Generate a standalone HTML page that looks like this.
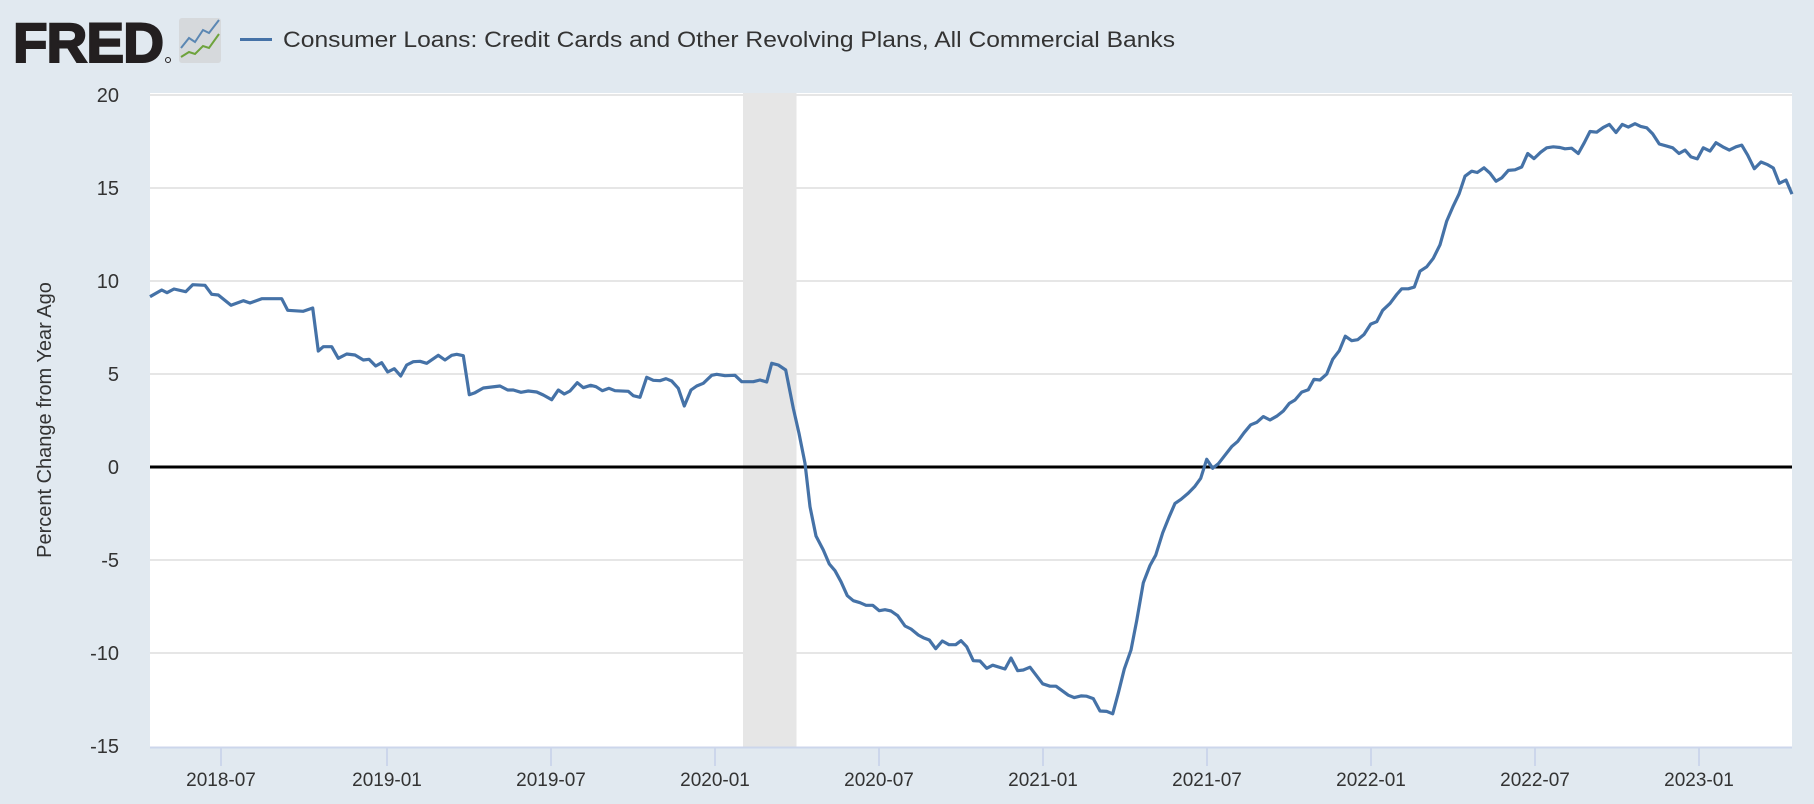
<!DOCTYPE html>
<html><head><meta charset="utf-8"><style>
html,body{margin:0;padding:0;background:#e1e9f0;}
svg{display:block;font-family:"Liberation Sans",sans-serif;}
</style></head><body>
<svg width="1814" height="804" viewBox="0 0 1814 804" xmlns="http://www.w3.org/2000/svg">
<rect width="1814" height="804" fill="#e1e9f0"/>
<!-- logo -->
<text x="13" y="62" font-size="56" font-weight="bold" fill="#231f20" stroke="#231f20" stroke-width="2" letter-spacing="-1" textLength="150" lengthAdjust="spacingAndGlyphs">FRED</text>
<circle cx="168" cy="60" r="2.5" fill="none" stroke="#231f20" stroke-width="1"/>
<rect x="179" y="18" width="42" height="45" rx="3" fill="#d6d9dc"/>
<polyline points="181,48 189,38 195,42 203,30 209,33 219,20" fill="none" stroke="#5b87b3" stroke-width="2"/>
<polyline points="181,57 189,52 195,54 203,46 209,48 219,34" fill="none" stroke="#6ea33c" stroke-width="2"/>
<line x1="240" y1="39.5" x2="272" y2="39.5" stroke="#4572a7" stroke-width="3"/>
<text x="283" y="47" font-size="22" fill="#333" textLength="892" lengthAdjust="spacingAndGlyphs">Consumer Loans: Credit Cards and Other Revolving Plans, All Commercial Banks</text>
<!-- plot -->
<rect x="150" y="93" width="1642" height="654" fill="#fff"/>
<rect x="743" y="93" width="53.5" height="654" fill="#e6e6e6"/>
<g stroke="#e6e6e6" stroke-width="2">
<line x1="150" y1="95" x2="1792" y2="95"/>
<line x1="150" y1="188" x2="1792" y2="188"/>
<line x1="150" y1="281" x2="1792" y2="281"/>
<line x1="150" y1="374" x2="1792" y2="374"/>
<line x1="150" y1="560" x2="1792" y2="560"/>
<line x1="150" y1="653" x2="1792" y2="653"/>
</g>
<line x1="150" y1="467" x2="1792" y2="467" stroke="#000" stroke-width="3"/>
<line x1="150" y1="747.5" x2="1792" y2="747.5" stroke="#ccd6eb" stroke-width="2"/>
<g stroke="#ccd6eb" stroke-width="2">
<line x1="221" y1="747" x2="221" y2="766"/><line x1="387" y1="747" x2="387" y2="766"/>
<line x1="551" y1="747" x2="551" y2="766"/><line x1="715" y1="747" x2="715" y2="766"/>
<line x1="879" y1="747" x2="879" y2="766"/><line x1="1043" y1="747" x2="1043" y2="766"/>
<line x1="1207" y1="747" x2="1207" y2="766"/><line x1="1371" y1="747" x2="1371" y2="766"/>
<line x1="1535" y1="747" x2="1535" y2="766"/><line x1="1699" y1="747" x2="1699" y2="766"/>
</g>
<g font-size="19" fill="#333" text-anchor="middle">
<text x="221" y="786">2018-07</text><text x="387" y="786">2019-01</text>
<text x="551" y="786">2019-07</text><text x="715" y="786">2020-01</text>
<text x="879" y="786">2020-07</text><text x="1043" y="786">2021-01</text>
<text x="1207" y="786">2021-07</text><text x="1371" y="786">2022-01</text>
<text x="1535" y="786">2022-07</text><text x="1699" y="786">2023-01</text>
</g>
<g font-size="20" fill="#333" text-anchor="end">
<text x="119" y="102">20</text><text x="119" y="195">15</text><text x="119" y="288">10</text>
<text x="119" y="381">5</text><text x="119" y="474">0</text><text x="119" y="567">-5</text>
<text x="119" y="660">-10</text><text x="119" y="753">-15</text>
</g>
<text transform="translate(51,420) rotate(-90)" font-size="20" fill="#333" text-anchor="middle">Percent Change from Year Ago</text>
<polyline fill="none" stroke="#4572a7" stroke-width="3.2" stroke-linejoin="round" points="
150,296.7 161.7,290 167,292.7 174,289 185.7,291.7 192.7,284.7 205,285.3 211.7,294.3 218.3,295 231,305.3 243.3,300.7 250,303 261.7,298.7 281.7,298.7 287.7,310.3 303.3,311.3 312.7,308 318.3,351 323.3,346.7 331.7,346.7 338.3,358.3 346.7,354 355,355 363.3,360 369,359.3 375.7,366 381.7,362.7 387.7,372 394.3,368.7 400.7,376 406.7,365 413.3,361.7 420,361.3 426.7,363.3 438.3,355.3 445,360 451.7,355.3 456.7,354.3 463.3,355.7 469.3,394.7 475,392.7 483.3,388 500,386 507.7,390 513.3,390 521,392.3 528.3,391 536.7,392 543.3,395 551.7,399.7 558.3,390 564.3,394 570,391
577.3,382.7 583.3,387.7 590.7,385.3 596,386.7 602.3,390.7 609,388.3 615,390.7 628.3,391.3 633.3,395.7 640,397.3 646.7,377.3 653.3,380.3 660,380.7 666,378.7 671.7,381 678.3,388.3 684.3,406 691,390 696.7,386 703.3,383.3 711.7,375.3 716.7,374.3 725,375.7 735,375.3 741.7,381.7 753.3,381.7 760,380 766.7,382 771.7,363.3 778.3,365 785.7,370 793.3,408.3 799,433.3 805,463.3 810,506.7 816,536 823.3,550 829.3,564 835,570.7 841,581.7 847.3,595.7 853.3,600.7 860,602.7 866,605.3 872.7,605.3 879.3,610.7 885,609.7 891,611 897.7,615.7 905,626 911,629 918.3,635 923.3,637.7 929.3,640 935.7,648.7 942.3,641 949,644.7 955.7,644.7 961,640.7 966.7,646.7 973.3,660.7 980,661
986.7,668.3 992.7,665.2 1005,669 1011,658 1017.7,670.7 1023.3,670 1030,667.2 1042.7,683.8 1050,686.2 1056,686.2 1068.3,695.2 1074.3,697.6 1081,695.9 1086.7,696.2 1093.3,698.6 1100,711 1106.7,711.4 1112.7,713.8 1118.3,693.1 1124.3,669 1131,650 1136.7,620.7 1143.3,582.8 1150,565.5 1155.7,555.2 1162.7,532.8 1169,517.2 1175,503.4 1181,499.3 1188.3,493.1 1195,486.2 1200.7,478.3 1206.7,459.3 1212.7,468.3 1218.3,463.8 1225,455.2 1231.7,446.6 1237.7,441.4 1244,432.8 1250.7,424.8 1256.7,422.4 1263.3,416.6 1270,420 1276.7,416.2 1283.3,411 1289.3,403.4 1295,400 1301.7,392.1 1308.3,389.7 1314,379.3 1320,380 1326.7,374.1 1332.7,359.3 1339.3,350.7 1345.3,336.2 1351.7,340.7 1357.7,339.7 1364,334.5 1370.7,324.1 1376.7,321.7 1382.7,310.3 1390,303.4
1396.7,294.5 1401.7,288.8 1408.3,288.8 1414.3,287.1 1420,271.2 1426.7,266.8 1433.3,258.3 1440,244.8 1446.7,221.1 1453.3,205.9 1459,194.1 1465,176.2 1471.7,171.2 1477.3,172.5 1484,167.8 1490,173.2 1496,181.2 1501.7,177.9 1508.3,170.4 1515,169.8 1521.7,167 1527.7,153.5 1534,158.6 1540.7,152.2 1546.7,147.8 1553.3,146.8 1560,147.5 1565,148.8 1571.7,148.2 1578.3,153.5 1584.3,142.7 1590,131.5 1596.7,132.2 1603.3,127.4 1609.3,124.4 1616,132.5 1622.3,124.4 1628.3,127.1 1635,123.7 1640.7,126.4 1646.7,127.8 1652.7,133.9 1659.3,144 1666.7,146.1 1672.7,147.8 1679,153.5 1685,150.1 1691,156.9 1697.3,158.9 1703.3,147.8 1710,151.1 1716,142.7 1722.7,146.8 1729.3,150.1 1736,146.8 1741.7,145.1 1747.7,155.2 1754.3,168.7 1761,162 1767.7,164.7 1773.3,168 1779.3,183.3 1786,180 1792,194.1"/>
</svg>
</body></html>
